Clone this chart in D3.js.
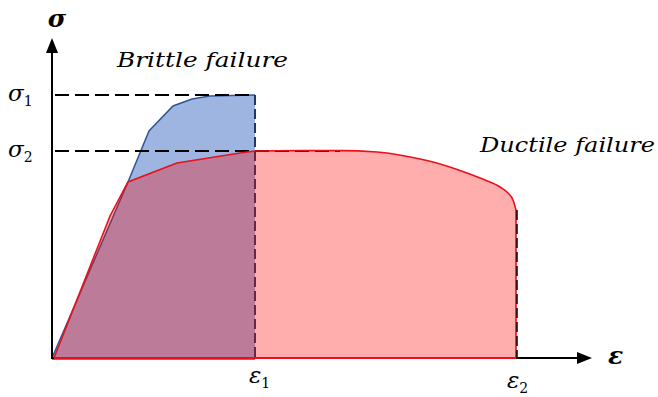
<!DOCTYPE html>
<html>
<head>
<meta charset="utf-8">
<script src="https://cdn.jsdelivr.net/npm/d3@7"></script>
<style>
  html, body { margin: 0; padding: 0; background: #fff; }
  svg { display: block; }
</style>
</head>
<body>
<svg id="chart" width="658" height="397"></svg>
<script>
// ---- data (strain units, stress units) ----
const epsLimits = [0, 27];          // strain axis extent
const sigLimits = [0, 16];          // stress axis extent
const eps1 = 10.15, eps2 = 23.2;    // failure strains
const sigma1 = 13.15, sigma2 = 10.35; // peak stresses

const brittleStrain = [0, 3.8, 4.85, 6.05, 7.0, 7.9, 10.1];
const brittleStress = [0, 8.8, 11.35, 12.6, 12.95, 13.1, 13.15];

// ductile: polyline rise, then smooth plateau/descent
const ductileRiseStrain = [0.1, 2.9, 3.8, 6.25, 9.4, 10.15];
const ductileRiseStress = [0, 7.1, 8.8, 9.75, 10.25, 10.35];
const ductileTailStrain = [10.15, 12.4, 14.4, 16.25, 17.65, 19.05, 20.75, 21.65, 22.4, 22.8, 23.05, 23.2];
const ductileTailStress = [10.35, 10.37, 10.37, 10.3, 10.1, 9.8, 9.25, 8.9, 8.55, 8.25, 7.9, 7.4];

const labels = {
  sigma: "σ", eps: "ε",
  brittle: "Brittle failure", ductile: "Ductile failure"
};

// ---- scales ----
const svg = d3.select("#chart");
const x = d3.scaleLinear().domain(epsLimits).range([52, 592]);
const y = d3.scaleLinear().domain(sigLimits).range([358, 38]);

const brittle = brittleStrain.map((e, i) => [e, brittleStress[i]]);
const rise = ductileRiseStrain.map((e, i) => [e, ductileRiseStress[i]]);
const tail = ductileTailStrain.map((e, i) => [e, ductileTailStress[i]]);

const line = d3.line().x(d => x(d[0])).y(d => y(d[1]));
const smooth = d3.line().x(d => x(d[0])).y(d => y(d[1])).curve(d3.curveMonotoneX);
const ductilePath = line(rise) + smooth(tail).replace(/^M/, "L");

// brittle polygon (closed down to axis)
const brittlePoly = brittle.concat([[eps1, sigma1], [eps1, 0], [0, 0]]);
svg.append("path")
  .attr("d", line(brittlePoly) + "Z")
  .attr("fill", "#4472C4").attr("fill-opacity", 0.52).attr("stroke", "none");
svg.append("path")
  .attr("d", line(brittle.concat([[eps1, sigma1]])))
  .attr("fill", "none").attr("stroke", "#2F5597").attr("stroke-width", 1.5);
svg.append("line")
  .attr("x1", x(0)).attr("x2", x(eps1)).attr("y1", y(0) + 1).attr("y2", y(0) + 1)
  .attr("stroke", "#2F5597").attr("stroke-width", 1.5);
svg.append("line")
  .attr("x1", x(eps1)).attr("x2", x(eps1)).attr("y1", y(sigma1)).attr("y2", y(0))
  .attr("stroke", "#1F3864").attr("stroke-width", 2).attr("stroke-dasharray", "10,4");

// ductile polygon
svg.append("path")
  .attr("d", ductilePath + `L${x(eps2)},${y(0)}L${x(0.1)},${y(0)}Z`)
  .attr("fill", "#FF0000").attr("fill-opacity", 0.32).attr("stroke", "none");

// horizontal dashed reference lines
svg.append("line")
  .attr("x1", x(0) + 3).attr("x2", x(eps1)).attr("y1", y(sigma1)).attr("y2", y(sigma1))
  .attr("stroke", "#000").attr("stroke-width", 2).attr("stroke-dasharray", "14,6");
svg.append("line")
  .attr("x1", x(0) + 3).attr("x2", x(14.4)).attr("y1", y(sigma2)).attr("y2", y(sigma2))
  .attr("stroke", "#000").attr("stroke-width", 2).attr("stroke-dasharray", "14,6");

// axes
svg.append("line")
  .attr("x1", x(0)).attr("x2", x(0)).attr("y1", y(0) + 1).attr("y2", y(sigLimits[1]) + 12)
  .attr("stroke", "#000").attr("stroke-width", 2);
svg.append("path")
  .attr("d", `M${x(0)},${y(sigLimits[1])} L${x(0) - 6},${y(sigLimits[1]) + 15} L${x(0) + 6},${y(sigLimits[1]) + 15}Z`)
  .attr("fill", "#000");
svg.append("line")
  .attr("x1", x(0)).attr("x2", x(epsLimits[1]) - 12).attr("y1", y(0)).attr("y2", y(0))
  .attr("stroke", "#000").attr("stroke-width", 2);
svg.append("path")
  .attr("d", `M${x(epsLimits[1])},${y(0)} L${x(epsLimits[1]) - 15},${y(0) - 6} L${x(epsLimits[1]) - 15},${y(0) + 6}Z`)
  .attr("fill", "#000");

// ductile outline
svg.append("path")
  .attr("d", ductilePath + `L${x(eps2)},${y(0)}`)
  .attr("fill", "none").attr("stroke", "#E8101A").attr("stroke-width", 1.6);
svg.append("line")
  .attr("x1", x(0.1)).attr("x2", x(eps2)).attr("y1", y(0)).attr("y2", y(0))
  .attr("stroke", "#E8101A").attr("stroke-width", 2);
svg.append("line")
  .attr("x1", x(eps2) + 1).attr("x2", x(eps2) + 1).attr("y1", y(7.4)).attr("y2", y(0))
  .attr("stroke", "#000").attr("stroke-width", 1.5).attr("stroke-dasharray", "10,4");

// text
const serif = "'DejaVu Serif', 'Liberation Serif', serif";
svg.append("text").attr("x", x(0) + 5).attr("y", 27)
  .attr("text-anchor", "middle").attr("font-family", serif).attr("font-style", "italic")
  .attr("font-weight", "bold").attr("font-size", 25).text(labels.sigma);
svg.append("text").attr("x", 608).attr("y", 364)
  .attr("font-family", serif).attr("font-style", "italic")
  .attr("font-weight", "bold").attr("font-size", 25).text(labels.eps);

function sub(xp, yp, main, s) {
  const t = svg.append("text").attr("x", xp).attr("y", yp)
    .attr("font-family", serif).attr("font-size", 23);
  t.append("tspan").attr("font-style", "italic").text(main);
  t.append("tspan").attr("font-size", 14).attr("dy", 5).text(s);
}
sub(8, y(sigma1) + 6, "σ", "1");
sub(8, y(sigma2) + 6, "σ", "2");
sub(x(eps1) - 6, 383, "ε", "1");
sub(x(eps2) - 9, 388, "ε", "2");

svg.append("text").attr("x", 117).attr("y", 67)
  .attr("font-family", serif).attr("font-style", "italic").attr("font-size", 20)
  .attr("textLength", 171).attr("lengthAdjust", "spacingAndGlyphs").text(labels.brittle);
svg.append("text").attr("x", 480).attr("y", 152)
  .attr("font-family", serif).attr("font-style", "italic").attr("font-size", 20)
  .attr("textLength", 175).attr("lengthAdjust", "spacingAndGlyphs").text(labels.ductile);
</script>
</body>
</html>
